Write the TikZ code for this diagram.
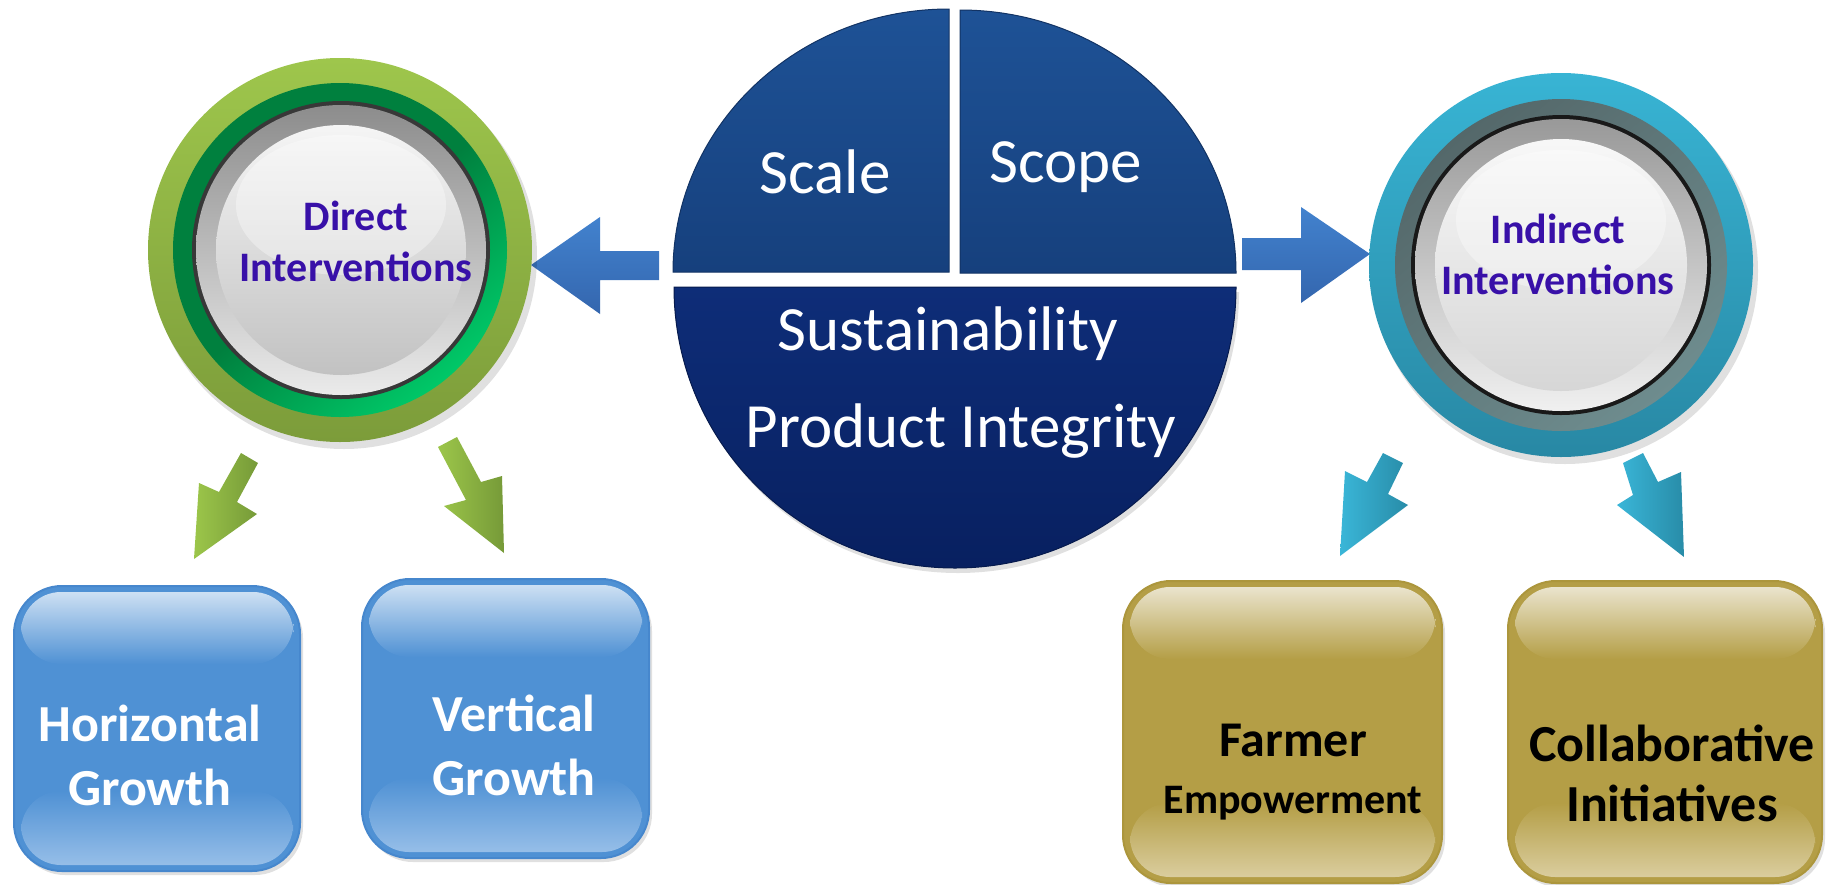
\documentclass[tikz,border=0pt]{standalone}
\usepackage{fontspec}
\setmainfont{Carlito}
\definecolor{pieUpTop}{RGB}{30,82,150}
\definecolor{pieUpBot}{RGB}{22,64,125}
\definecolor{pieLowTop}{RGB}{14,45,120}
\definecolor{pieLowBot}{RGB}{8,32,96}
\definecolor{arrBlueTop}{RGB}{66,130,206}
\definecolor{arrBlueBot}{RGB}{52,102,174}
\definecolor{gOutTop}{RGB}{158,198,76}
\definecolor{gOutBot}{RGB}{124,156,58}
\definecolor{gDk}{RGB}{0,128,62}
\definecolor{gBright}{RGB}{0,200,104}
\definecolor{tOutTop}{RGB}{56,180,212}
\definecolor{tOutBot}{RGB}{40,136,164}
\definecolor{tRingTop}{RGB}{84,104,106}
\definecolor{tRingBot}{RGB}{110,140,142}
\definecolor{circTxt}{RGB}{56,16,168}
\definecolor{grArrL}{RGB}{156,198,74}
\definecolor{grArrR}{RGB}{118,154,56}
\definecolor{blArrL}{RGB}{58,182,216}
\definecolor{blArrR}{RGB}{40,140,168}
\definecolor{boxBlue}{RGB}{79,145,212}
\definecolor{boxBlueEdge}{RGB}{70,135,205}
\definecolor{boxBlueHiT}{RGB}{205,224,243}
\definecolor{boxBlueHiB}{RGB}{150,190,232}
\definecolor{boxGold}{RGB}{180,158,70}
\definecolor{boxGoldEdge}{RGB}{172,150,60}
\definecolor{boxGoldHiT}{RGB}{234,228,205}
\definecolor{boxGoldHiB}{RGB}{218,205,158}
\tikzset{
  pietext/.style={text=white, font=\fontsize{63}{70}\selectfont, inner sep=0pt},
  circtext/.style={text=circTxt, font=\bfseries\fontsize{42}{51}\selectfont, align=center, inner sep=0pt},
  boxtext/.style={font=\bfseries\fontsize{52}{64}\selectfont, align=center, inner sep=0pt},
  shadowfill/.style={fill=black, opacity=0.12}
}
\newcommand{\glossbox}[6]{%
  \fill[shadowfill] (#1+3,#2+4) [rounded corners=48] rectangle (#3+3,#4+4);
  \fill[box#5, draw=box#5Edge, line width=2pt, rounded corners=48] (#1,#2) rectangle (#3,#4);
  \shade[top color=box#5HiT, bottom color=box#5, rounded corners=40] (#1+7,#2+6) rectangle (#3-7,#2+78);
  \shade[top color=box#5, bottom color=box#5HiB, rounded corners=40] (#1+7,#4-80) rectangle (#3-7,#4-6);
}
\begin{document}
\begin{tikzpicture}[x=1pt,y=-1pt]
\useasboundingbox[fill=white] (0,0) rectangle (1826,884);

% ---------- central pie ----------
\fill[shadowfill] (677,292) arc[start angle=180,end angle=0,radius=281] -- cycle;
\shade[top color=pieLowTop, bottom color=pieLowBot, draw=pieLowBot!80!black, line width=1pt]
  (674,287) arc[start angle=180,end angle=0,radius=281] -- cycle;
\shade[top color=pieUpTop, bottom color=pieUpBot, draw=pieUpBot!80!black, line width=1pt]
  (949,272) -- (673,272) arc[start angle=180,end angle=270,x radius=276,y radius=263] -- cycle;
\shade[top color=pieUpTop, bottom color=pieUpBot, draw=pieUpBot!80!black, line width=1pt]
  (960,273) -- (960,10) arc[start angle=270,end angle=360,x radius=276,y radius=263] -- cycle;

\node[pietext] (scale) at (825,172) {Scale};
\node[pietext] (scope) at (1066,167) {Scope};
\node[pietext] (sust) at (948,334) {Sustainability};
\node[pietext] (integ) at (961,431) {Product Integrity};

% ---------- horizontal block arrows ----------
\shade[top color=arrBlueTop, bottom color=arrBlueBot]
  (659,251) -- (600,251) -- (600,217) -- (531,265) -- (600,314) -- (600,280) -- (659,280) -- cycle;
\shade[top color=arrBlueTop, bottom color=arrBlueBot]
  (1242,238) -- (1301,238) -- (1301,207) -- (1370,254) -- (1301,303) -- (1301,270) -- (1242,270) -- cycle;

% ---------- left (green) circle ----------
\fill[shadowfill] (344,256) circle (193);
\shade[top color=gOutTop, bottom color=gOutBot] (340,250) circle (192);
\shade[top color=gDk, bottom color=gBright, middle color=gDk, shading angle=40] (340,250) circle (167);
\fill[black!78] (341,250) circle (149);
\shade[top color=black!45, bottom color=black!8] (341,250) circle (145);
\shade[top color=black!4, bottom color=black!24] (341,250) circle (125);
\fill[white, opacity=0.35] (341,205) ellipse (105 and 70);
\node[circtext] (direct) at (356,241) {Direct\\Interventions};

% ---------- right (teal) circle ----------
\fill[shadowfill] (1565,271) circle (193);
\shade[top color=tOutTop, bottom color=tOutBot] (1561,265) circle (192);
\shade[top color=tRingTop, bottom color=tRingBot, shading angle=40] (1561,265) circle (166);
\fill[black!90] (1561,265) circle (150);
\shade[top color=black!40, bottom color=black!6] (1561,265) circle (146);
\shade[top color=black!3, bottom color=black!16] (1561,265) circle (126);
\fill[white, opacity=0.35] (1561,220) ellipse (105 and 70);
\node[circtext] (indirect) at (1558,254) {Indirect\\Interventions};

% ---------- down arrows ----------
\shade[left color=grArrL, right color=grArrR]
  (241,453) -- (258,463) -- (237,502) -- (257,514) -- (194,559) -- (199,483) -- (219,492) -- cycle;
\shade[left color=grArrL, right color=grArrR]
  (438,447) -- (457,437) -- (481,482) -- (502,476) -- (504,553) -- (444,506) -- (466,500) -- cycle;
\shade[left color=blArrL, right color=blArrR]
  (1383,453) -- (1403,463) -- (1388,494) -- (1408,505) -- (1340,556) -- (1345,471) -- (1367,482) -- cycle;
\shade[left color=blArrL, right color=blArrR]
  (1623,463) -- (1643,453) -- (1658,482) -- (1681,472) -- (1684,557) -- (1617,505) -- (1633,495) -- cycle;

% ---------- boxes ----------
\glossbox{14}{586}{300}{871}{Blue}{}
\glossbox{362}{579}{649}{858}{Blue}{}
\glossbox{1123}{581}{1442}{883}{Gold}{}
\glossbox{1508}{581}{1822}{883}{Gold}{}

\node[boxtext, text=white] (horiz) at (150,755) {Horizontal\\Growth};
\node[boxtext, text=white] (vert) at (514,745) {Vertical\\Growth};
\node[boxtext, text=black, font=\bfseries\fontsize{50}{57}\selectfont] (farmer) at (1293,772)
  {Farmer\\{\fontsize{42}{57}\selectfont Empowerment}};
\node[boxtext, text=black, font=\bfseries\fontsize{52}{60}\selectfont] (collab) at (1672,773)
  {Collaborative\\Initiatives};
\end{tikzpicture}
\end{document}
